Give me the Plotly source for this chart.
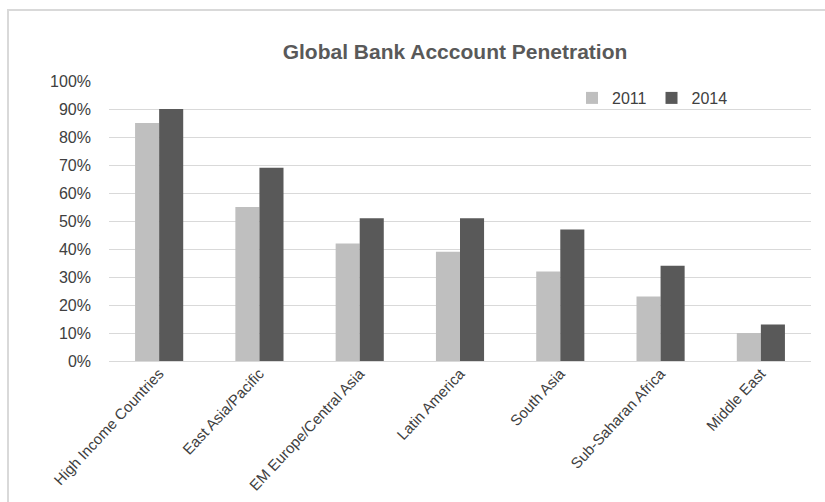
import plotly.graph_objects as go

categories = ["High Income Countries", "East Asia/Pacific", "EM Europe/Central Asia",
              "Latin America", "South Asia", "Sub-Saharan Africa", "Middle East"]
v2011 = [0.85, 0.55, 0.42, 0.39, 0.32, 0.23, 0.10]
v2014 = [0.90, 0.69, 0.51, 0.51, 0.47, 0.34, 0.13]
ytick_vals = [0, 0.1, 0.2, 0.3, 0.4, 0.5, 0.6, 0.7, 0.8, 0.9, 1.0]
ytick_text = ["0%", "10%", "20%", "30%", "40%", "50%", "60%", "70%", "80%", "90%", "100%"]

W, H = 825, 502
L, R, T, B = 109, 14, 81, 141
pw, ph = W - L - R, H - T - B

FONT = "Liberation Sans, Arial"
ytick_font = dict(family=FONT, size=16, color="#404040")
xtick_font = dict(family=FONT, size=15, color="#404040")
leg_font = dict(family=FONT, size=16, color="#404040")

fig = go.Figure()
fig.add_trace(go.Bar(name="2011", x=categories, y=v2011, marker=dict(color="#BFBFBF", line=dict(width=0))))
fig.add_trace(go.Bar(name="2014", x=categories, y=v2014, marker=dict(color="#595959", line=dict(width=0))))

def px_x(x):
    return (x - L) / pw

def px_y(y):
    return (H - B - y) / ph

fig.update_layout(
    width=W, height=H,
    margin=dict(l=L, r=R, t=T, b=B),
    paper_bgcolor="white", plot_bgcolor="white",
    barmode="group", bargap=0.52, bargroupgap=0,
    title=dict(text="<b>Global Bank Acccount Penetration</b>",
               font=dict(family=FONT, size=21, color="#595959"),
               x=455 / W, xref="container", xanchor="center",
               y=1 - 52 / H, yref="container", yanchor="middle"),
    legend=dict(orientation="h", x=px_x(572), y=px_y(98), xanchor="left", yanchor="middle",
                font=leg_font, bgcolor="rgba(0,0,0,0)", itemwidth=30, traceorder="normal"),
    xaxis=dict(tickangle=-47, tickfont=xtick_font, showgrid=False, showline=False,
               ticks="", automargin=False),
    yaxis=dict(range=[0, 1.0], tickvals=ytick_vals, ticktext=ytick_text, tickfont=ytick_font,
               showgrid=True, gridcolor="#D9D9D9", gridwidth=1, zeroline=True,
               zerolinecolor="#D9D9D9", zerolinewidth=1, showline=False, ticks="",
               ticklabelstandoff=17, automargin=False),
    shapes=[dict(type="rect", xref="paper", yref="paper",
                 x0=px_x(8), x1=px_x(840), y0=px_y(520), y1=px_y(10),
                 line=dict(color="#D9D9D9", width=2), fillcolor="rgba(0,0,0,0)", layer="below")],
)

fig.write_html("out.html")
